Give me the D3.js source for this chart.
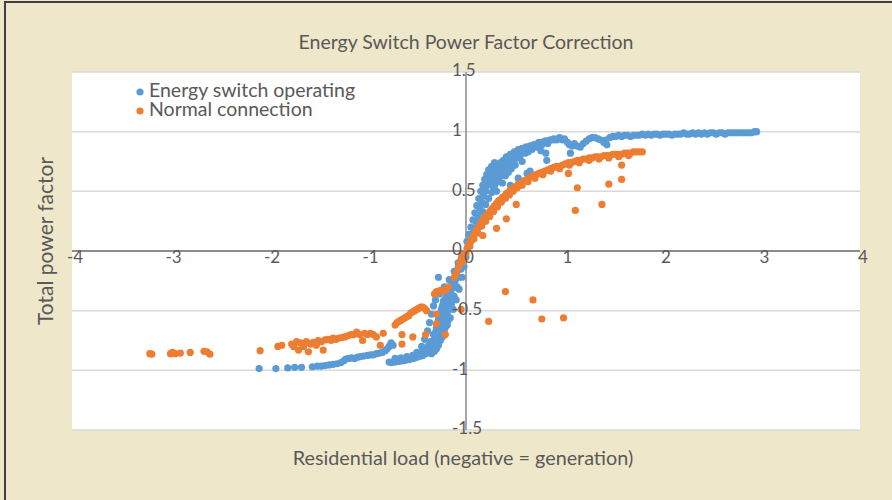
<!DOCTYPE html>
<html>
<head>
<meta charset="utf-8">
<script src="https://cdn.jsdelivr.net/npm/d3@7"></script>
<style>
  html, body { margin: 0; padding: 0; background: #efe7ca; }
  svg { display: block; }
</style>
</head>
<body>
<svg id="chart" width="892" height="500"></svg>
<script>
// ---------------- DATA ----------------
const chartTitle = "Energy Switch Power Factor Correction";
const xAxisTitle = "Residential load (negative = generation)";
const yAxisTitle = "Total power factor";
const seriesNames = ["Energy switch operating", "Normal connection"];
const xTicks = [-4, -3, -2, -1, 0, 1, 2, 3, 4];
const yTicks = [-1.5, -1, -0.5, 0, 0.5, 1, 1.5];

// Energy switch operating [load, power factor]
const switchFar = [
  [-2.10,-0.985],[-1.93,-0.985],[-1.81,-0.98],[-1.74,-0.975],[-1.67,-0.975],[-1.56,-0.97],
  [-1.51,-0.965],[-1.47,-0.965],[-1.43,-0.96],[-1.39,-0.955],[-1.35,-0.95],[-1.31,-0.945],
  [-1.27,-0.935],[-1.24,-0.92],[-1.22,-0.905],[-1.19,-0.90],[-1.16,-0.895],[-1.13,-0.90],
  [-1.10,-0.89],[-1.07,-0.885],[-1.04,-0.88],[-1.00,-0.875],[-0.97,-0.87],[-0.94,-0.87],
  [-0.91,-0.86],[-0.88,-0.855],[-0.85,-0.85],[-0.82,-0.835],[-0.80,-0.82],[-0.78,-0.80],
  [-0.76,-0.78],[-0.76,-0.77],[-0.74,-0.79]
];
const switchBend = [
  [-0.78,-0.93],[-0.76,-0.935],[-0.74,-0.93],[-0.72,-0.93],[-0.70,-0.925],[-0.68,-0.925],
  [-0.66,-0.92],[-0.64,-0.92],[-0.62,-0.915],[-0.60,-0.91],[-0.58,-0.91],[-0.56,-0.905],
  [-0.54,-0.90],[-0.52,-0.895],[-0.50,-0.89],[-0.48,-0.885],[-0.46,-0.88],[-0.44,-0.875],
  [-0.42,-0.865],[-0.40,-0.855],[-0.38,-0.845],[-0.36,-0.835],[-0.34,-0.82],[-0.32,-0.80],
  [-0.30,-0.82],[-0.26,-0.75],[-0.22,-0.68],[-0.19,-0.62],[-0.16,-0.56],[-0.13,-0.49],
  [-0.10,-0.41],[-0.07,-0.32],[-0.04,-0.22],[-0.02,-0.13],[0.00,-0.05],[0.02,0.03],
  [-0.72,-0.90],[-0.66,-0.895],[-0.60,-0.885],[-0.54,-0.875],[-0.50,-0.85],[-0.46,-0.86],
  [-0.45,-0.80],[-0.42,-0.74],[-0.39,-0.67],[-0.37,-0.60],[-0.35,-0.53],[-0.33,-0.46],
  [-0.31,-0.41],[-0.27,-0.36],[-0.22,-0.30],[-0.17,-0.24],[-0.12,-0.17],[-0.08,-0.10],
  [-0.04,-0.04],[-0.40,-0.82],[-0.36,-0.76],[-0.33,-0.70],[-0.30,-0.64],[-0.28,-0.58],
  [-0.26,-0.52],[-0.24,-0.46],[-0.21,-0.40],[-0.18,-0.34],[-0.14,-0.27],[-0.10,-0.20],
  [-0.06,-0.12],[-0.03,-0.05],[-0.36,-0.80],[-0.34,-0.76],[-0.28,-0.70],[-0.25,-0.62],
  [-0.22,-0.55],[-0.20,-0.48],[-0.17,-0.42],[-0.15,-0.36],[-0.28,-0.22],
  [-0.44,-0.84],[-0.38,-0.79],[-0.32,-0.74],[-0.31,-0.68],[-0.27,-0.66],[-0.29,-0.61],
  [-0.24,-0.58],[-0.27,-0.55],[-0.23,-0.51],[-0.25,-0.49],[-0.19,-0.52],[-0.20,-0.44],
  [-0.15,-0.45],[-0.23,-0.42],[-0.17,-0.38],[-0.12,-0.38],[-0.20,-0.36],[-0.13,-0.31],
  [-0.09,-0.30],[-0.11,-0.25],[-0.07,-0.22],[-0.08,-0.16],[-0.05,-0.15],[-0.03,-0.09],
  [-0.35,-0.86],[-0.32,-0.84],[-0.28,-0.79],[-0.24,-0.72],[-0.21,-0.64],[-0.18,-0.58]
];
const switchRise = [
  [0.02,0.04],[0.04,0.09],[0.06,0.14],[0.08,0.19],[0.10,0.25],[0.12,0.30],[0.14,0.36],
  [0.16,0.41],[0.18,0.46],[0.20,0.50],[0.22,0.55],[0.24,0.59],[0.26,0.63],[0.28,0.66],
  [0.30,0.69],[0.32,0.71],[0.35,0.74],[0.38,0.76],[0.41,0.79],[0.45,0.81],[0.49,0.83],
  [0.53,0.85],[0.57,0.86],[0.61,0.87],[0.65,0.88],[0.69,0.89],[0.73,0.90],[0.77,0.91],
  [0.81,0.92],[0.85,0.93],[0.89,0.93],[0.93,0.94],
  [0.05,0.08],[0.08,0.14],[0.11,0.20],[0.14,0.27],[0.17,0.33],[0.20,0.39],[0.23,0.44],
  [0.26,0.49],[0.28,0.53],[0.01,0.08],[0.03,0.14],[0.05,0.20],[0.07,0.26],[0.09,0.32],
  [0.11,0.38],[0.13,0.44],[0.15,0.50],[0.17,0.55],[0.19,0.60],[0.21,0.64],[0.23,0.68],
  [0.26,0.71],[0.29,0.74],
  [0.28,0.60],[0.29,0.55],[0.30,0.64],[0.31,0.50],[0.32,0.58],[0.33,0.68],[0.34,0.62],
  [0.35,0.72],[0.36,0.66],[0.37,0.57],[0.38,0.74],[0.39,0.69],[0.40,0.63],[0.41,0.77],
  [0.42,0.71],[0.43,0.66],[0.44,0.79],[0.45,0.74],[0.46,0.69],[0.47,0.81],[0.48,0.76],
  [0.50,0.72],[0.51,0.82],[0.52,0.78],[0.54,0.84],[0.55,0.80],[0.57,0.75],[0.58,0.85],
  [0.60,0.82],[0.61,0.87],[0.63,0.83],[0.65,0.88],[0.67,0.85],[0.69,0.89],[0.72,0.87],
  [0.74,0.91],[0.77,0.89],[0.80,0.92],[0.83,0.90],[0.86,0.93],[0.89,0.94],[0.92,0.93],
  [0.95,0.95],[0.45,0.55],[0.53,0.61],[0.62,0.65],[0.65,0.67],[0.82,0.76],[0.81,0.82],
  [0.76,0.84]
];
const switchPlateau = [
  [0.98,0.93],[1.00,0.94],[1.03,0.91],[1.05,0.89],[1.06,0.82],[1.08,0.88],[1.10,0.90],
  [1.13,0.88],[1.16,0.87],[1.19,0.90],[1.22,0.92],[1.25,0.94],[1.28,0.95],[1.31,0.95],
  [1.34,0.94],[1.37,0.93],[1.40,0.91],[1.43,0.89],[1.42,0.93],[1.46,0.95],[1.49,0.96],
  [1.52,0.96],[1.55,0.97],[1.58,0.96],[1.61,0.97],[1.64,0.97],[1.67,0.96],[1.70,0.97],
  [1.73,0.97],[1.76,0.97],[1.79,0.98],[1.82,0.97],[1.85,0.98],[1.88,0.97],[1.91,0.98],
  [1.94,0.98],[1.97,0.97],[2.00,0.98],[2.03,0.98],[2.06,0.98],[2.09,0.97],[2.12,0.98],
  [2.15,0.98],[2.18,0.98],[2.21,0.99],[2.24,0.98],[2.27,0.98],[2.30,0.99],[2.33,0.98],
  [2.36,0.99],[2.39,0.98],[2.42,0.99],[2.45,0.98],[2.48,0.99],[2.51,0.99],[2.54,0.98],
  [2.57,0.99],[2.60,0.99],[2.63,0.98],[2.66,0.99],[2.69,0.99],[2.72,0.99],[2.75,0.99],
  [2.78,0.99],[2.81,0.99],[2.84,0.99],[2.87,0.99],[2.90,0.99],[2.93,1.00],[2.95,1.00]
];

// Normal connection [load, power factor]
const normalFar = [
  [-3.21,-0.86],[-3.19,-0.865],[-3.00,-0.86],[-2.98,-0.85],[-2.95,-0.86],[-2.90,-0.855],
  [-2.80,-0.85],[-2.66,-0.84],[-2.63,-0.845],[-2.60,-0.865],
  [-2.09,-0.835],[-1.91,-0.80],[-1.87,-0.79],[-1.77,-0.78],[-1.75,-0.80],[-1.72,-0.76],
  [-1.70,-0.83],[-1.68,-0.77],[-1.65,-0.80],[-1.62,-0.76],[-1.60,-0.845],[-1.58,-0.78],
  [-1.55,-0.765],[-1.52,-0.79],[-1.50,-0.75],[-1.47,-0.76],[-1.45,-0.83],[-1.43,-0.745],
  [-1.40,-0.74],[-1.37,-0.75],[-1.35,-0.73],[-1.32,-0.74],[-1.29,-0.73],[-1.26,-0.725],
  [-1.23,-0.72],[-1.20,-0.71],[-1.17,-0.70],[-1.14,-0.70],[-1.11,-0.68],[-1.08,-0.70],
  [-1.05,-0.75],[-1.03,-0.69],[-1.00,-0.70],[-0.97,-0.69],[-0.94,-0.70],[-0.91,-0.72],
  [-0.87,-0.79],[-0.84,-0.69]
];
const normalMid = [
  [-0.72,-0.62],[-0.70,-0.60],[-0.68,-0.59],[-0.66,-0.58],[-0.64,-0.57],[-0.62,-0.56],
  [-0.60,-0.55],[-0.58,-0.54],[-0.56,-0.52],[-0.54,-0.51],[-0.52,-0.50],[-0.50,-0.49],
  [-0.48,-0.48],[-0.46,-0.47],[-0.44,-0.47],[-0.42,-0.48],[-0.40,-0.50],
  [-0.65,-0.70],[-0.65,-0.78],[-0.54,-0.72],[-0.41,-0.70],[-0.30,-0.53],[-0.30,-0.61],
  [-0.21,-0.70],
  [-0.32,-0.36],[-0.30,-0.34],[-0.28,-0.34],[-0.26,-0.33],[-0.24,-0.34],[-0.22,-0.33],
  [-0.20,-0.32],[-0.18,-0.30],
  [-0.12,-0.22],[-0.10,-0.19],[-0.08,-0.14],[-0.06,-0.10],[-0.05,-0.07],[-0.04,-0.04],
  [-0.03,-0.09],[-0.02,-0.05],[-0.05,-0.49]
];
const normalRise = [
  [0.00,-0.02],[0.01,0.02],[0.03,0.06],[0.05,0.09],[0.07,0.12],[0.09,0.15],[0.11,0.18],
  [0.13,0.20],[0.15,0.23],[0.17,0.26],[0.19,0.28],[0.21,0.30],[0.23,0.32],[0.25,0.34],
  [0.27,0.36],[0.29,0.38],[0.31,0.40],[0.33,0.42],[0.35,0.43],[0.37,0.45],[0.39,0.46],
  [0.41,0.48],[0.43,0.49],[0.45,0.51],[0.47,0.52],[0.50,0.54],[0.53,0.56],[0.56,0.57],
  [0.59,0.59],[0.62,0.60],[0.65,0.62],[0.68,0.63],[0.71,0.64],[0.74,0.65],[0.77,0.66],
  [0.80,0.67],[0.83,0.68],[0.86,0.69],[0.89,0.70],[0.92,0.71],[0.95,0.71],[0.98,0.72],
  [1.01,0.73],[1.04,0.74],[1.07,0.74],[1.10,0.75],[1.13,0.76],[1.16,0.76],[1.19,0.77],
  [1.22,0.77],[1.25,0.78],[1.28,0.78],[1.31,0.79],[1.34,0.79],[1.37,0.79],[1.40,0.80],
  [1.43,0.80],[1.46,0.80],[1.49,0.81],[1.52,0.81],[1.55,0.81],[1.58,0.81],[1.61,0.82],
  [1.64,0.82],[1.67,0.82],[1.70,0.83],[1.73,0.83],[1.76,0.83],[1.79,0.83],
  [0.04,0.04],[0.08,0.10],[0.12,0.15],[0.16,0.21],[0.20,0.25],[0.24,0.29],[0.28,0.33],
  [0.32,0.37],[0.36,0.41],[0.40,0.44],[0.44,0.47],[0.48,0.50],[0.52,0.53],[0.57,0.55],
  [0.63,0.58],[0.70,0.61],[0.78,0.64],[0.86,0.67],[0.95,0.69],[1.05,0.72],[1.15,0.74],
  [1.25,0.76],[1.35,0.77],[1.45,0.78],[1.55,0.79],[1.65,0.80]
];
const normalOutliers = [
  [0.17,0.13],[0.31,0.19],[0.41,0.27],[0.51,0.39],[1.04,0.65],[1.13,0.53],[1.11,0.34],
  [1.38,0.39],[1.45,0.56],[1.58,0.72],[1.58,0.60],
  [0.40,-0.34],[0.68,-0.41],[0.23,-0.59],[0.77,-0.57],[0.99,-0.56]
];

const switchSeries = [...switchFar, ...switchBend, ...switchRise, ...switchPlateau];
const normalSeries = [...normalFar, ...normalMid, ...normalRise, ...normalOutliers];
const seriesColors = ["#5b9bd5", "#ed7d31"];

// ---------------- DRAW ----------------
const svg = d3.select("#chart");
const W = 892, H = 500;
const plot = { left: 72, right: 860, top: 72, bottom: 430 };
const font = "Lato, 'Open Sans', sans-serif";
const textColor = "#595959";

svg.append("rect").attr("x", 0).attr("y", 0).attr("width", W).attr("height", H).attr("fill", "#efe7ca");
svg.append("rect").attr("x", 5).attr("y", 2).attr("width", W + 20).attr("height", H + 20)
   .attr("fill", "none").attr("stroke", "#404040").attr("stroke-width", 2);

const x = d3.scaleLinear().domain([-4, 4]).range([plot.left, plot.right]);
const y = d3.scaleLinear().domain([-1.5, 1.5]).range([plot.bottom, plot.top]);

svg.append("rect").attr("x", plot.left).attr("y", plot.top)
   .attr("width", plot.right - plot.left).attr("height", plot.bottom - plot.top).attr("fill", "#ffffff");

// horizontal gridlines
svg.append("g").selectAll("line").data(yTicks.filter(d => d !== 0)).join("line")
  .attr("x1", plot.left).attr("x2", plot.right)
  .attr("y1", d => y(d)).attr("y2", d => y(d))
  .attr("stroke", "#d9d9d9").attr("stroke-width", 1.5);

// axes lines crossing at origin
svg.append("line").attr("x1", plot.left).attr("x2", plot.right)
   .attr("y1", y(0)).attr("y2", y(0)).attr("stroke", "#8c8c8c").attr("stroke-width", 2);
svg.append("line").attr("x1", x(0)).attr("x2", x(0))
   .attr("y1", plot.top).attr("y2", plot.bottom).attr("stroke", "#9a9a9a").attr("stroke-width", 1.75);

// data points
const pts = svg.append("g");
pts.selectAll("circle.s").data(switchSeries).join("circle").attr("class", "s")
  .attr("cx", d => x(d[0])).attr("cy", d => y(d[1])).attr("r", 3.6).attr("fill", seriesColors[0]);
pts.selectAll("circle.n").data(normalSeries).join("circle").attr("class", "n")
  .attr("cx", d => x(d[0])).attr("cy", d => y(d[1])).attr("r", 3.6).attr("fill", seriesColors[1]);

// tick labels
svg.append("g").selectAll("text").data(xTicks).join("text")
  .attr("x", d => x(d) + 3).attr("y", y(0) + 8)
  .attr("text-anchor", "middle").attr("dominant-baseline", "middle")
  .attr("font-family", font).attr("font-size", 17).attr("fill", textColor)
  .text(d => String(d));
svg.append("g").selectAll("text").data(yTicks).join("text")
  .attr("x", x(0) - 14).attr("y", d => y(d))
  .attr("text-anchor", "start").attr("dominant-baseline", "middle")
  .attr("font-family", font).attr("font-size", 17).attr("fill", textColor)
  .text(d => String(d));

// titles
svg.append("text").attr("x", 466).attr("y", 44).attr("text-anchor", "middle").attr("dominant-baseline", "middle")
  .attr("font-family", font).attr("font-size", 19.5).attr("fill", textColor).text(chartTitle);
svg.append("text").attr("x", 463).attr("y", 460).attr("text-anchor", "middle").attr("dominant-baseline", "middle")
  .attr("font-family", font).attr("font-size", 19.8).attr("fill", textColor).text(xAxisTitle);
svg.append("text").attr("transform", "translate(48,241) rotate(-90)")
  .attr("text-anchor", "middle").attr("dominant-baseline", "middle")
  .attr("font-family", font).attr("font-size", 21).attr("fill", textColor).text(yAxisTitle);

// legend
const leg = svg.append("g").selectAll("g").data(seriesNames).join("g")
  .attr("transform", (d, i) => `translate(140,${92 + i * 19})`);
leg.append("circle").attr("r", 3.6).attr("fill", (d, i) => seriesColors[i]);
leg.append("text").attr("x", 9).attr("y", 0).attr("dominant-baseline", "middle")
  .attr("font-family", font).attr("font-size", 19.5).attr("fill", textColor).text(d => d);
</script>
</body>
</html>
